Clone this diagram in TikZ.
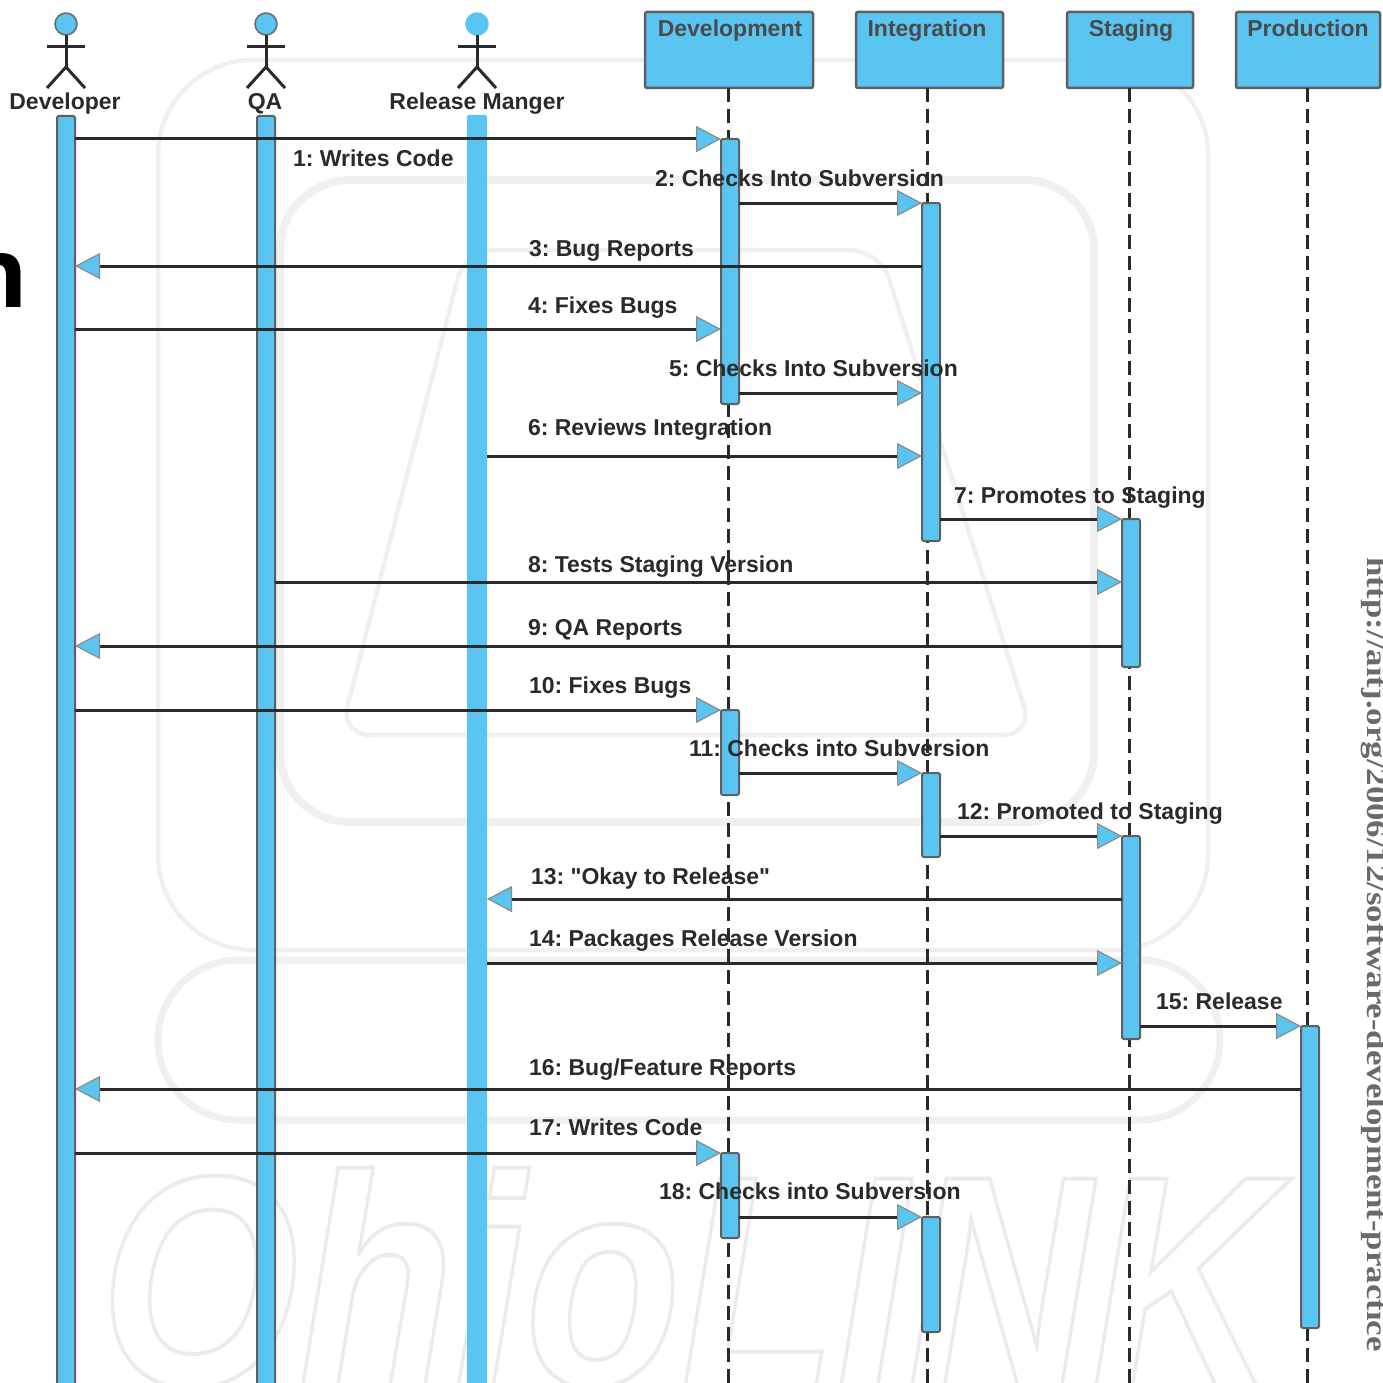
\documentclass[tikz,border=0pt]{standalone}
\usepackage{fontspec}
\setmainfont{Liberation Sans}
\newfontfamily\wmfont{Liberation Sans}
\newfontfamily\headfont{Open Sans}
\newfontfamily\urlfont{Liberation Serif}
\usetikzlibrary{arrows.meta,calc}
\definecolor{barblue}{HTML}{5BC5F2}
\definecolor{ink}{HTML}{2A2A2A}
\definecolor{wm}{HTML}{F0F0F0}
\tikzset{
  every node/.style={inner sep=0pt,outer sep=0pt},
  bar/.style={draw=ink!75,line width=2pt,fill=barblue,minimum width=18pt,rounded corners=2pt},
  lifebar/.style={bar,minimum height=1284pt},
  topbox/.style={draw=ink!75,line width=2.5pt,fill=barblue,rounded corners=2pt},
  toptext/.style={anchor=base,font=\bfseries\fontsize{23}{26}\selectfont\frenchspacing,text=ink!85},
  lifeline/.style={draw=ink,line width=3pt,dash pattern=on 14pt off 7pt},
  msg/.style={draw=ink,line width=3pt,
    -{Triangle[length=25pt,width=26pt,fill=barblue,color=ink!55,line width=1.2pt]}},
  lbl/.style={anchor=base west,font=\bfseries\fontsize{23}{26}\selectfont\frenchspacing,text=ink},
  actorname/.style={anchor=base,font=\bfseries\fontsize{23}{26}\selectfont\frenchspacing,text=ink},
  stick/.style={draw=ink,line width=3pt},
  headdot/.style={circle,draw=ink!70,line width=1.5pt,fill=barblue,minimum size=22pt},
  wmline/.style={draw=wm,line width=4.5pt},
}
\begin{document}
\begin{tikzpicture}[x=1pt,y=-1pt]
\useasboundingbox (0,0) rectangle (1383,1383);
\begin{scope}
\clip (0,0) rectangle (1383,1383);
% watermark
\draw[wmline,rounded corners=95pt] (158,60) rectangle (1208,950);
\draw[wmline,line width=8pt,rounded corners=70pt] (280,180) rectangle (1094,822);
\draw[wmline,line join=round,rounded corners=30pt] (465,250) -- (880,250) -- (1033,735) -- (340,735) -- cycle;
\draw[wmline,line width=7pt,rounded corners=80pt] (158,960) rectangle (1220,1120);
\node[anchor=base west,text=wm,xscale=0.85] (wmtext) at (100,1385)
  {\special{pdf:code q 1 Tr 4 w 0.92 0.92 0.92 RG}\wmfont\bfseries\itshape\fontsize{300}{310}\selectfont OhioLINK\special{pdf:code Q}};

% heading fragment
\node[anchor=base west,text=black] (frag) at (-35,307) {\headfont\bfseries\fontsize{97}{100}\selectfont n};

% lifeline ends
\coordinate (ld) at (728,1383);
\coordinate (li) at (927,1383);
\coordinate (ls) at (1129,1383);
\coordinate (lp) at (1307,1383);

% top boxes
\node[topbox,minimum width=168pt,minimum height=76pt] (bd) at (729,50) {};
\node[topbox,minimum width=147pt,minimum height=76pt] (bi) at (929.5,50) {};
\node[topbox,minimum width=126pt,minimum height=76pt] (bs) at (1130,50) {};
\node[topbox,minimum width=144pt,minimum height=76pt] (bp) at (1308,50) {};
\node[toptext] (td) at (730,37) {Development};
\node[toptext] (ti) at (927,37) {Integration};
\node[toptext] (ts) at (1131,37) {Staging};
\node[toptext] (tp) at (1308,37) {Production};

% lifelines
\draw[lifeline] (bd.south -| ld) -- (ld);
\draw[lifeline] (bi.south -| li) -- (li);
\draw[lifeline] (bs.south -| ls) -- (ls);
\draw[lifeline] (bp.south -| lp) -- (lp);

% actors
\foreach \nm/\xx/\hc in {a/66/ink!70,b/266/ink!70,c/477/barblue}{
  \node[headdot,draw=\hc] (head\nm) at (\xx,24) {};
  \coordinate (hip\nm) at (\xx,67);
  \draw[stick] (head\nm.south) -- (hip\nm);
  \draw[stick] (\xx-19,47) -- (\xx+19,47);
  \draw[stick] (\xx-19,88) -- (hip\nm) -- (\xx+19,88);
}
\node[actorname] (na) at (65,110) {Developer};
\node[actorname] (nb) at (265,110) {QA};
\node[actorname] (nc) at (477,110) {Release Manger};

% actor bars
\node[lifebar] (dev) at (66,758) {};
\node[lifebar] (qa) at (266,758) {};
\node[lifebar,draw=none,minimum width=20pt] (rm) at (477,757) {};

% activation bars
\node[bar,minimum height=265pt] (d1) at (730,271.5) {};
\node[bar,minimum height=338pt] (i1) at (931,372) {};
\node[bar,minimum height=148pt] (s1) at (1131,593) {};
\node[bar,minimum height=85pt]  (d2) at (730,752.5) {};
\node[bar,minimum height=84pt]  (i2) at (931,815) {};
\node[bar,minimum height=203pt] (s2) at (1131,937.5) {};
\node[bar,minimum height=302pt] (p1) at (1310,1177) {};
\node[bar,minimum height=85pt]  (d3) at (730,1195.5) {};
\node[bar,minimum height=115pt] (i3) at (931,1274.5) {};

% messages
\foreach \n/\yy in {1/139,2/203,3/266,4/329,5/393,6/456,7/519,8/582,9/646,10/710,11/773,12/836,13/899,14/963,15/1026,16/1089,17/1153,18/1217}
  \coordinate (m\n) at (0,\yy);
\draw[msg] (dev.east |- m1) -- (d1.west |- m1);
\draw[msg] (d1.east |- m2) -- (i1.west |- m2);
\draw[msg] (i1.west |- m3) -- (dev.east |- m3);
\draw[msg] (dev.east |- m4) -- (d1.west |- m4);
\draw[msg] (d1.east |- m5) -- (i1.west |- m5);
\draw[msg] (rm.east |- m6) -- (i1.west |- m6);
\draw[msg] (i1.east |- m7) -- (s1.west |- m7);
\draw[msg] (qa.east |- m8) -- (s1.west |- m8);
\draw[msg] (s1.west |- m9) -- (dev.east |- m9);
\draw[msg] (dev.east |- m10) -- (d2.west |- m10);
\draw[msg] (d2.east |- m11) -- (i2.west |- m11);
\draw[msg] (i2.east |- m12) -- (s2.west |- m12);
\draw[msg] (s2.west |- m13) -- (rm.east |- m13);
\draw[msg] (rm.east |- m14) -- (s2.west |- m14);
\draw[msg] (s2.east |- m15) -- (p1.west |- m15);
\draw[msg] (p1.west |- m16) -- (dev.east |- m16);
\draw[msg] (dev.east |- m17) -- (d3.west |- m17);
\draw[msg] (d3.east |- m18) -- (i3.west |- m18);

% message labels
\node[lbl] (l1) at (293,167) {1: Writes Code};
\node[lbl] (l2) at (655,186) {2: Checks Into Subversion};
\node[lbl] (l3) at (529,256) {3: Bug Reports};
\node[lbl] (l4) at (528,313) {4: Fixes Bugs};
\node[lbl] (l5) at (669,376) {5: Checks Into Subversion};
\node[lbl] (l6) at (528,435) {6: Reviews Integration};
\node[lbl] (l7) at (954,503) {7: Promotes to Staging};
\node[lbl] (l8) at (528,572) {8: Tests Staging Version};
\node[lbl] (l9) at (528,635) {9: QA Reports};
\node[lbl] (l10) at (529,693) {10: Fixes Bugs};
\node[lbl] (l11) at (689,756) {11: Checks into Subversion};
\node[lbl] (l12) at (957,819) {12: Promoted to Staging};
\node[lbl] (l13) at (531,884) {13: \textquotedbl Okay to Release\textquotedbl};
\node[lbl] (l14) at (529,946) {14: Packages Release Version};
\node[lbl] (l15) at (1156,1009) {15: Release};
\node[lbl] (l16) at (529,1075) {16: Bug/Feature Reports};
\node[lbl] (l17) at (529,1135) {17: Writes Code};
\node[lbl] (l18) at (659,1199) {18: Checks into Subversion};

% vertical source line
\node[rotate=-90,xscale=1.2,anchor=base west,text=ink!70] (src) at (1367,557)
  {\urlfont\bfseries\fontsize{29}{30}\selectfont http://aitj.org/2006/12/software-development-practice};
\end{scope}
\end{tikzpicture}
\end{document}
